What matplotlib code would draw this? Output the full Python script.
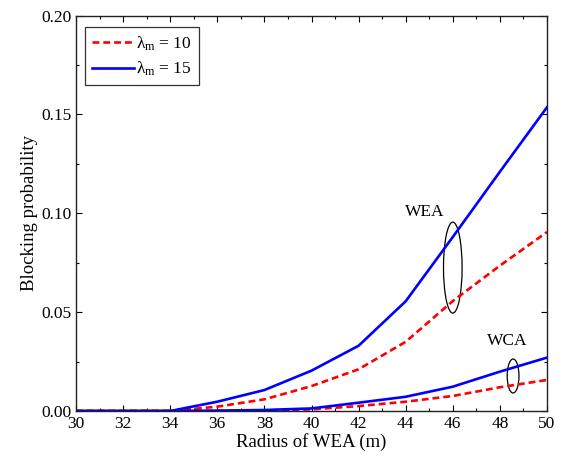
import matplotlib
matplotlib.use("Agg")
import matplotlib.pyplot as plt
from matplotlib.patches import Ellipse
from matplotlib.ticker import MultipleLocator, FormatStrFormatter

plt.rcParams['font.family'] = ['Liberation Serif', 'DejaVu Serif']
plt.rcParams['mathtext.fontset'] = 'custom'
plt.rcParams['mathtext.rm'] = 'Liberation Serif'
plt.rcParams['mathtext.it'] = 'Liberation Serif:italic'

radius = [30, 32, 34, 36, 38, 40, 42, 44, 46, 48, 50]
wea_lam10 = [0, 0, 0, 0.0022, 0.0059, 0.0126, 0.0211, 0.035, 0.0556, 0.0735, 0.0905]
wea_lam15 = [0, 0, 0, 0.0047, 0.0106, 0.0204, 0.033, 0.0555, 0.088, 0.121, 0.1536]
wca_lam10 = [0, 0, 0, 0.0001, 0.0003, 0.0008, 0.0025, 0.0047, 0.0076, 0.012, 0.0157]
wca_lam15 = [0, 0, 0, 0.0002, 0.0005, 0.0013, 0.0042, 0.0072, 0.0123, 0.0199, 0.027]

label10 = r'$\mathrm{\lambda_m}$ = 10'
label15 = r'$\mathrm{\lambda_m}$ = 15'

fig = plt.figure(figsize=(5.65, 4.61), dpi=100)
ax = fig.add_axes([76/565, 50/461, 471/565, 395.5/461])

red = '#ff0000'
blue = '#0000ff'
ax.plot(radius, wea_lam10, color=red, lw=1.9, ls=(0, (2.6, 1.5)), label=label10)
ax.plot(radius, wea_lam15, color=blue, lw=1.9, label=label15)
ax.plot(radius, wca_lam10, color=red, lw=1.9, ls=(0, (2.6, 1.5)))
ax.plot(radius, wca_lam15, color=blue, lw=1.9)

ax.add_patch(Ellipse((46.0, 0.0725), 0.79, 0.046, fill=False, ec='black', lw=0.9))
ax.add_patch(Ellipse((48.56, 0.0177), 0.5, 0.0172, fill=False, ec='black', lw=0.9))
ax.text(44.8, 0.1005, 'WEA', ha='center', va='center', fontsize=12.5)
ax.text(48.3, 0.0354, 'WCA', ha='center', va='center', fontsize=12.5)

ax.set_xlim(30, 50)
ax.set_ylim(0, 0.20)
ax.xaxis.set_major_locator(MultipleLocator(2))
ax.xaxis.set_minor_locator(MultipleLocator(1))
ax.yaxis.set_major_locator(MultipleLocator(0.05))
ax.yaxis.set_minor_locator(MultipleLocator(0.025))
ax.yaxis.set_major_formatter(FormatStrFormatter('%.2f'))
ax.tick_params(which='both', direction='in', top=True, right=True, labelsize=12.5)
ax.tick_params(which='major', length=4, width=0.8)
ax.tick_params(which='minor', length=2.5, width=0.8)
for s in ax.spines.values():
    s.set_linewidth(1.0)
    s.set_color('#222222')

ax.set_xlabel('Radius of WEA (m)', fontsize=13.5, labelpad=1)
ax.set_ylabel('Blocking probability', fontsize=13.5, labelpad=2)

leg = ax.legend(loc='upper left', bbox_to_anchor=(0.019, 0.97), fontsize=12.5,
                frameon=True, fancybox=False, edgecolor='black', handlelength=2.4,
                handletextpad=0.15, borderpad=0.4, labelspacing=0.4, borderaxespad=0)
leg.get_frame().set_linewidth(0.9)

fig.savefig('out.png', dpi=100)
